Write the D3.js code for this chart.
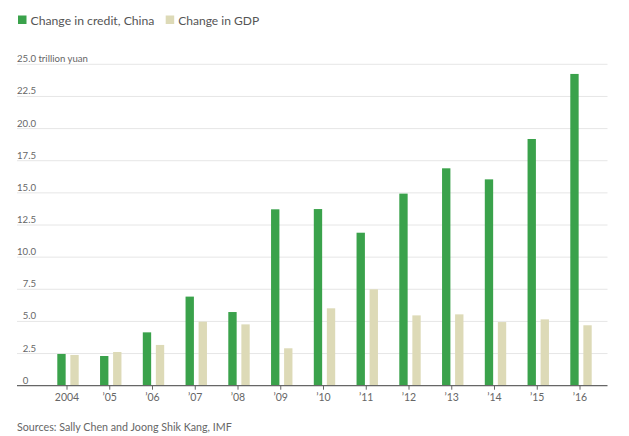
<!DOCTYPE html>
<html>
<head>
<meta charset="utf-8">
<script src="https://cdn.jsdelivr.net/npm/d3@7"></script>
<style>
  body { margin: 0; background: #fff; }
  text { font-family: Lato, "Open Sans", sans-serif; }
  .tick-label { font-size: 10px; fill: #666; }
  .legend-label { font-size: 14px; fill: #555; }
  .source { font-size: 11px; fill: #666; }
</style>
</head>
<body>
<div id="chart"></div>
<script>
// Chart data
const years = ["2004", "’05", "’06", "’07", "’08", "’09", "’10", "’11", "’12", "’13", "’14", "’15", "’16"];
const creditChange = [2.47, 2.31, 4.15, 6.93, 5.73, 13.72, 13.74, 11.9, 14.94, 16.91, 16.05, 19.19, 24.25];
const gdpChange = [2.39, 2.62, 3.17, 4.98, 4.77, 2.91, 6.02, 7.5, 5.47, 5.55, 4.95, 5.16, 4.70];
const yTicks = [0, 2.5, 5, 7.5, 10, 12.5, 15, 17.5, 20, 22.5, 25];
const seriesNames = ["Change in credit, China", "Change in GDP"];
const seriesColors = ["#3aa24b", "#dddab7"];

const W = 629, H = 436;

const svg = d3.select("#chart")
  .append("svg")
  .attr("width", W)
  .attr("height", H);

// Shrink or grow a text node's font so it spans the given width
function fitWidth(sel, target) {
  const node = sel.node();
  const size = parseFloat(getComputedStyle(node).fontSize);
  const w = node.getComputedTextLength();
  sel.style("font-size", (size * target / w).toFixed(2) + "px");
}

// Scales
const left = 17, right = 607.5;
const x = d3.scalePoint()
  .domain(years)
  .range([68, 581]);

const sub = d3.scaleBand()
  .domain(["credit", "gdp"])
  .range([-10.7, 10.7])
  .paddingInner(0.36);

const y = d3.scaleLinear()
  .domain([0, 25])
  .range([385.7, 64.3]);

// Gridlines and y labels
svg.append("g")
  .selectAll("line")
  .data(yTicks.filter(d => d > 0))
  .join("line")
  .attr("x1", left)
  .attr("x2", right)
  .attr("y1", d => y(d))
  .attr("y2", d => y(d))
  .attr("stroke", "#e6e6e6")
  .attr("stroke-width", 1);

svg.append("g")
  .selectAll("text")
  .data(yTicks)
  .join("text")
  .attr("class", "tick-label")
  .attr("x", d => {
    const s = d === 0 ? "0" : d.toFixed(1);
    return s.length >= 4 ? left : left + 5.7;
  })
  .attr("y", d => y(d) - 2)
  .style("font-size", "9.6px")
  .text(d => d === 25 ? "25.0 trillion yuan" : (d === 0 ? "0" : d.toFixed(1)));

// Bars
const groups = svg.append("g")
  .selectAll("g")
  .data(years.map((yr, i) => ({ year: yr, credit: creditChange[i], gdp: gdpChange[i] })))
  .join("g")
  .attr("transform", d => `translate(${x(d.year)},0)`);

groups.selectAll("rect")
  .data(d => [
    { key: "credit", value: d.credit, color: seriesColors[0] },
    { key: "gdp", value: d.gdp, color: seriesColors[1] }
  ])
  .join("rect")
  .attr("x", d => sub(d.key))
  .attr("width", sub.bandwidth())
  .attr("y", d => y(d.value))
  .attr("height", d => y(0) - y(d.value))
  .attr("fill", d => d.color);

// X axis
const xAxis = svg.append("g")
  .attr("transform", `translate(0,${y(0)})`);

xAxis.append("line")
  .attr("x1", left)
  .attr("x2", right)
  .attr("stroke", "#666")
  .attr("stroke-width", 1.2);

xAxis.selectAll("line.tick")
  .data(years)
  .join("line")
  .attr("class", "tick")
  .attr("x1", d => x(d) - 1)
  .attr("x2", d => x(d) - 1)
  .attr("y1", 0)
  .attr("y2", 4)
  .attr("stroke", "#666");

xAxis.selectAll("text")
  .data(years)
  .join("text")
  .attr("class", "tick-label")
  .attr("x", d => x(d) - 1)
  .attr("y", 15)
  .attr("text-anchor", "middle")
  .style("font-size", "10.5px")
  .text(d => d);

// Legend
const legend = svg.append("g");
const legendX = [18, 165.7];
const legendTextW = [124, 81];
seriesNames.forEach((name, i) => {
  legend.append("rect")
    .attr("x", legendX[i])
    .attr("y", 15.5)
    .attr("width", 8.5)
    .attr("height", 8.5)
    .attr("fill", seriesColors[i]);
  const t = legend.append("text")
    .attr("class", "legend-label")
    .attr("x", legendX[i] + 12.5)
    .attr("y", 24.5)
    .text(name);
  fitWidth(t, legendTextW[i]);
});

// Source line
const src = svg.append("text")
  .attr("class", "source")
  .attr("x", left)
  .attr("y", 430.5)
  .text("Sources: Sally Chen and Joong Shik Kang, IMF");
fitWidth(src, 215);
</script>
</body>
</html>
